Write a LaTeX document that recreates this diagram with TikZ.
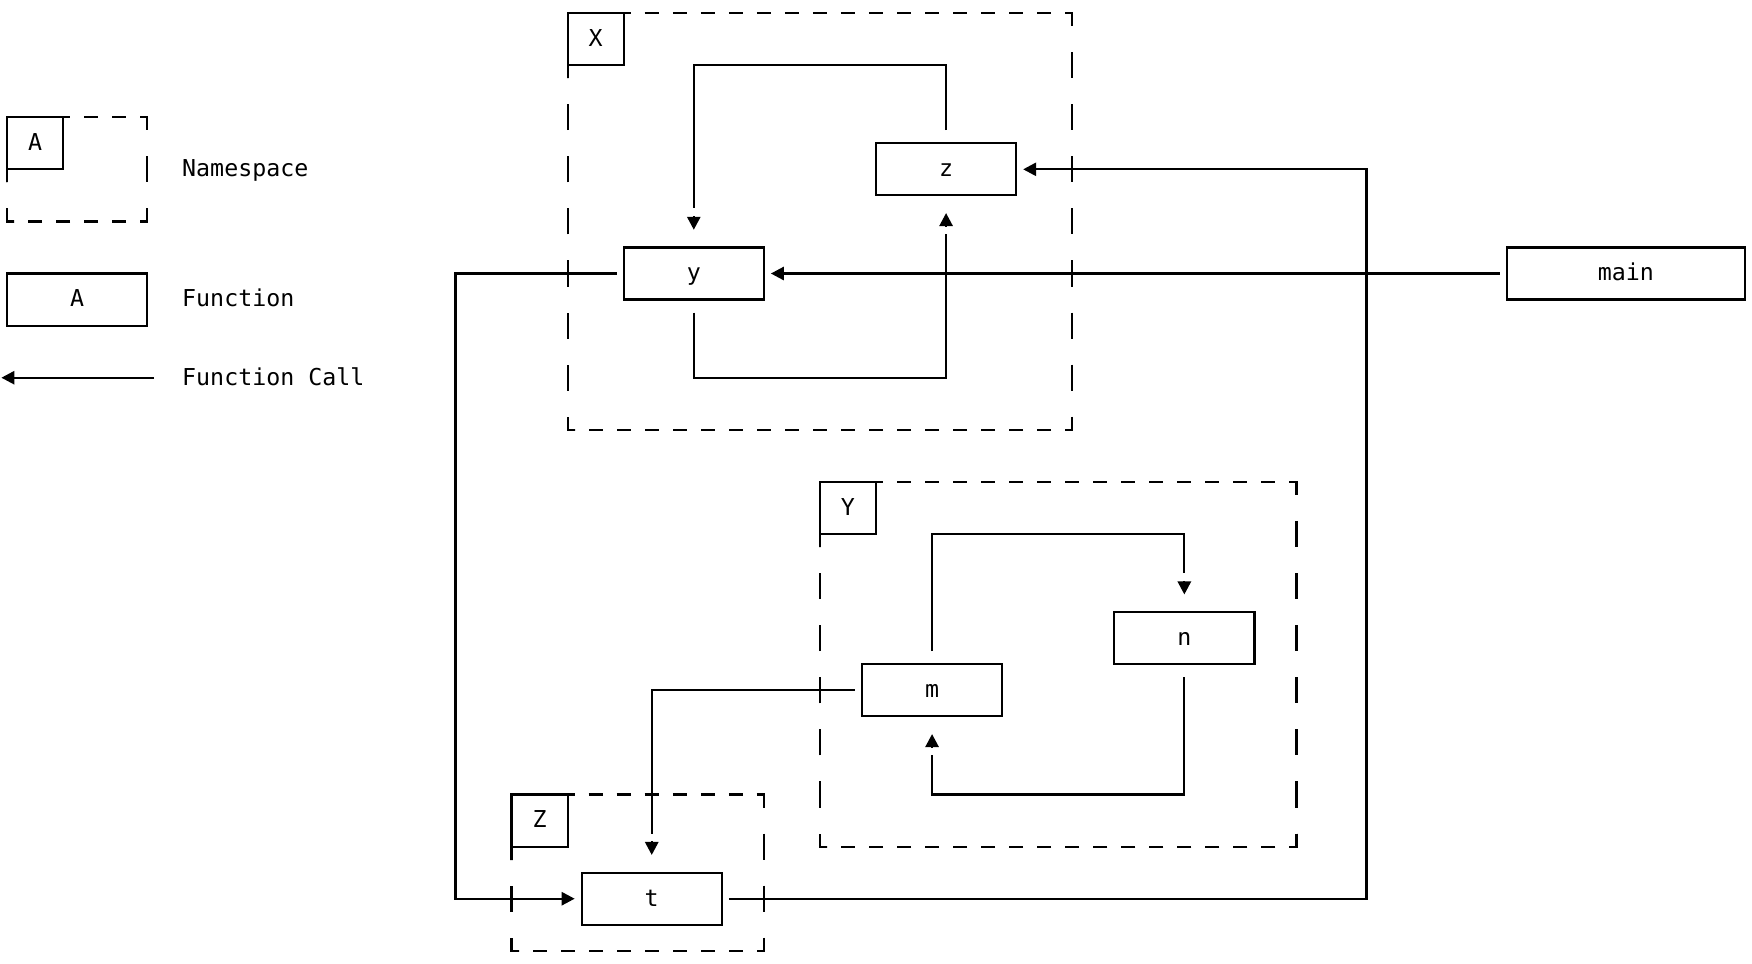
\documentclass[tikz,border=0pt]{standalone}
\usepackage{fontspec}
\setmonofont{DejaVu Sans Mono}
\usetikzlibrary{arrows.meta,calc}
\newcommand\gcw{7.008pt}
\newcommand\grh{13.025pt}
\newcommand\monofnt{\ttfamily\fontsize{11.64pt}{14pt}\selectfont}
\tikzset{
  ln/.style={line width=1.1pt, line join=miter},
  nsh/.style={line width=1.1pt, dash pattern=on \gcw off \gcw, dash phase=\gcw},
  nsv/.style={line width=1.1pt, dash pattern=on \grh off \grh, dash phase=\grh},
  fbox/.style={draw, line width=1.1pt, inner sep=0pt, outer sep=0pt,
    minimum width=10*\gcw, minimum height=2*\grh, font=\monofnt,
    text height=7.3pt, text depth=0pt},
  lbox/.style={fbox, minimum width=4*\gcw},
  txt/.style={inner sep=0pt, outer sep=0pt, font=\monofnt, text height=7.3pt, text depth=0pt, anchor=west},
  head/.style={-{Triangle[length=6.5pt,width=6.6pt]}},
}
% namespace frame: c1 r1 c2 r2 lc lr (grid cells)
\newcommand\nsframe[6]{%
  \draw[ln] (#5+0.5,#2+0.5) -- (#5+1,#2+0.5);
  \draw[nsh] (#5+1,#2+0.5) -- (#3,#2+0.5);
  \draw[ln] (#3,#2+0.5) -- (#3+0.5,#2+0.5) -- (#3+0.5,#2+1);
  \draw[nsv] (#3+0.5,#2+1) -- (#3+0.5,#4);
  \draw[ln] (#3+0.5,#4) -- (#3+0.5,#4+0.5) -- (#3,#4+0.5);
  \draw[nsh] (#3,#4+0.5) -- (#1+1,#4+0.5);
  \draw[ln] (#1+1,#4+0.5) -- (#1+0.5,#4+0.5) -- (#1+0.5,#4);
  \draw[nsv] (#1+0.5,#4) -- (#1+0.5,#6+1);
  \draw[ln] (#1+0.5,#6+1) -- (#1+0.5,#6+0.5);
}
\begin{document}
\begin{tikzpicture}[x=7.008pt,y=-13.025pt]
\fill[white] (0,0) rectangle (125,37);
\useasboundingbox (0,0) rectangle (125,37);

% ---------- legend ----------
\node[lbox] (nsA) at (2.5,5.5) {A};
\nsframe{0}{4}{10}{8}{4}{6}
\node[txt] (tNS) at (13,6.5) {Namespace};
\node[fbox] (fA) at (5.5,11.5) {A};
\node[txt] (tF) at (13,11.5) {Function};
\coordinate (la1) at (11,14.5);
\coordinate (la2) at (0.1,14.5);
\draw[ln,head] (la1) -- (la2);
\node[txt] (tFC) at (13,14.5) {Function Call};

% ---------- namespaces ----------
\node[lbox] (X) at (42.5,1.5) {X};
\nsframe{40}{0}{76}{16}{44}{2}
\node[lbox] (Y) at (60.5,19.5) {Y};
\nsframe{58}{18}{92}{32}{62}{20}
\node[lbox] (Z) at (38.5,31.5) {Z};
\nsframe{36}{30}{54}{36}{40}{32}

% ---------- functions ----------
\node[fbox] (y) at (49.5,10.5) {y};
\node[fbox] (z) at (67.5,6.5) {z};
\node[fbox, minimum width=17*\gcw] (main) at (116,10.5) {main};
\node[fbox] (m) at (66.5,26.5) {m};
\node[fbox] (n) at (84.5,24.5) {n};
\node[fbox] (t) at (46.5,34.5) {t};

% ---------- calls ----------
% z -> y
\draw[ln] ($(z.north)+(0,-0.5)$) -- ($(z.north)+(0,-3)$) -| ($(y.north)+(0,-1.5)$);
\draw[ln,head] ($(y.north)+(0,-1.2)$) -- ($(y.north)+(0,-0.68)$);
% y -> z
\draw[ln] ($(y.south)+(0,0.5)$) -- ($(y.south)+(0,3)$) -| ($(z.south)+(0,1.5)$);
\draw[ln,head] ($(z.south)+(0,1.2)$) -- ($(z.south)+(0,0.68)$);
% main -> y
\draw[ln,head] ($(main.west)+(-0.5,0)$) -- ($(y.east)+(0.5,0)$);
% t -> z
\coordinate (tz) at (97.5,6.5);
\draw[ln,head] ($(t.east)+(0.5,0)$) -| (tz) -- ($(z.east)+(0.5,0)$);
% y -> t
\coordinate (yt) at (32.5,10.5);
\draw[ln,head] ($(y.west)+(-0.5,0)$) -- (yt) |- ($(t.west)+(-0.5,0)$);
% m -> n
\draw[ln] ($(m.north)+(0,-0.5)$) -- ($(m.north)+(0,-5)$) -| ($(n.north)+(0,-1.5)$);
\draw[ln,head] ($(n.north)+(0,-1.2)$) -- ($(n.north)+(0,-0.68)$);
% n -> m
\draw[ln] ($(n.south)+(0,0.5)$) -- ($(n.south)+(0,5)$) -| ($(m.south)+(0,1.5)$);
\draw[ln,head] ($(m.south)+(0,1.2)$) -- ($(m.south)+(0,0.68)$);
% m -> t
\draw[ln] ($(m.west)+(-0.5,0)$) -| ($(t.north)+(0,-1.5)$);
\draw[ln,head] ($(t.north)+(0,-1.2)$) -- ($(t.north)+(0,-0.68)$);
\end{tikzpicture}
\end{document}
